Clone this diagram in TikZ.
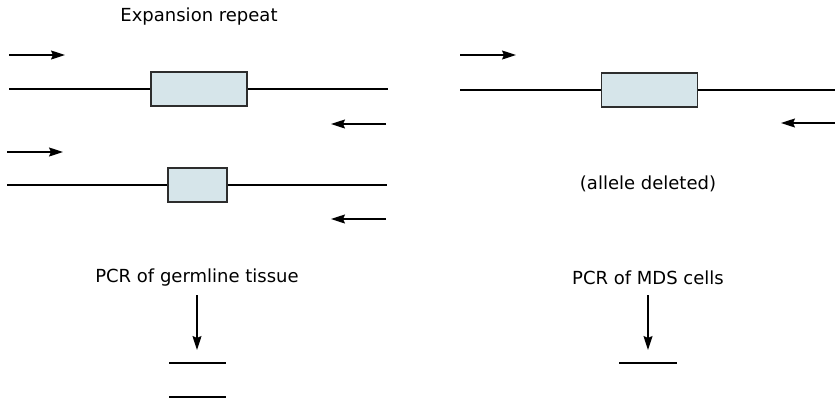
\documentclass[tikz,border=0pt]{standalone}
\usepackage{xcolor}
\usepackage{fontspec}
\setmainfont{DejaVu Sans}
\usepackage{tikz}
\usetikzlibrary{arrows.meta, positioning}
\definecolor{boxfill}{RGB}{214,229,234}
\definecolor{boxedge}{RGB}{45,45,45}
\tikzset{
  repeatbox/.style={rectangle, draw=boxedge, fill=boxfill, line width=0.75pt,
    inner sep=0pt, minimum height=17pt},
  dna/.style={line width=1pt, color=black},
  primer/.style={-{Stealth[length=7pt, width=4.5pt, inset=1pt]}, line width=0.65pt},
  band/.style={line width=1pt},
  label/.style={font=\fontsize{9}{10}\selectfont, inner sep=0pt}
}

\begin{document}
\begin{tikzpicture}[x=0.5pt, y=-0.5pt]
  \useasboundingbox (0,0) rectangle (835,402);
  % germline alleles
  \node[label] (exptxt) at (199,17) {Expansion repeat};
  \coordinate (p1a) at (9,55);   \coordinate (p1b) at (65,55);
  \coordinate (l1a) at (9,89);   \coordinate (l1b) at (388,89);
  \node[repeatbox, minimum width=48pt] (box1) at (199,89) {};
  \coordinate (r1a) at (386,124); \coordinate (r1b) at (331,124);
  \draw[primer] (p1a) -- (p1b);
  \draw[dna] (l1a) -- (box1);
  \draw[dna] (box1) -- (l1b);
  \draw[primer] (r1a) -- (r1b);

  \coordinate (p2a) at (7,152);  \coordinate (p2b) at (63,152);
  \coordinate (l2a) at (7,185);  \coordinate (l2b) at (387,185);
  \node[repeatbox, minimum width=29.5pt] (box2) at (197.5,185) {};
  \coordinate (r2a) at (386,219); \coordinate (r2b) at (331,219);
  \draw[primer] (p2a) -- (p2b);
  \draw[dna] (l2a) -- (box2);
  \draw[dna] (box2) -- (l2b);
  \draw[primer] (r2a) -- (r2b);

  \node[label] (germtxt) at (197,278) {PCR of germline tissue};
  \coordinate (g1) at (197,295); \coordinate (g2) at (197,350);
  \draw[primer] (g1) -- (g2);
  \coordinate (b1a) at (169,363); \coordinate (b1b) at (226,363);
  \coordinate (b2a) at (169,397); \coordinate (b2b) at (226,397);
  \draw[band] (b1a) -- (b1b);
  \draw[band] (b2a) -- (b2b);

  % MDS cells
  \coordinate (p3a) at (460,55);  \coordinate (p3b) at (516,55);
  \coordinate (l3a) at (460,90);  \coordinate (l3b) at (835,90);
  \node[repeatbox, minimum width=48pt] (box3) at (649.5,90) {};
  \coordinate (r3a) at (835,123); \coordinate (r3b) at (781,123);
  \draw[primer] (p3a) -- (p3b);
  \draw[dna] (l3a) -- (box3);
  \draw[dna] (box3) -- (l3b);
  \draw[primer] (r3a) -- (r3b);
  \node[label] (deltxt) at (648,184) {(allele deleted)};

  \node[label] (mdstxt) at (648,278) {PCR of MDS cells};
  \coordinate (m1) at (648,295); \coordinate (m2) at (648,350);
  \draw[primer] (m1) -- (m2);
  \coordinate (b3a) at (619,363); \coordinate (b3b) at (677,363);
  \draw[band] (b3a) -- (b3b);
\end{tikzpicture}
\end{document}
